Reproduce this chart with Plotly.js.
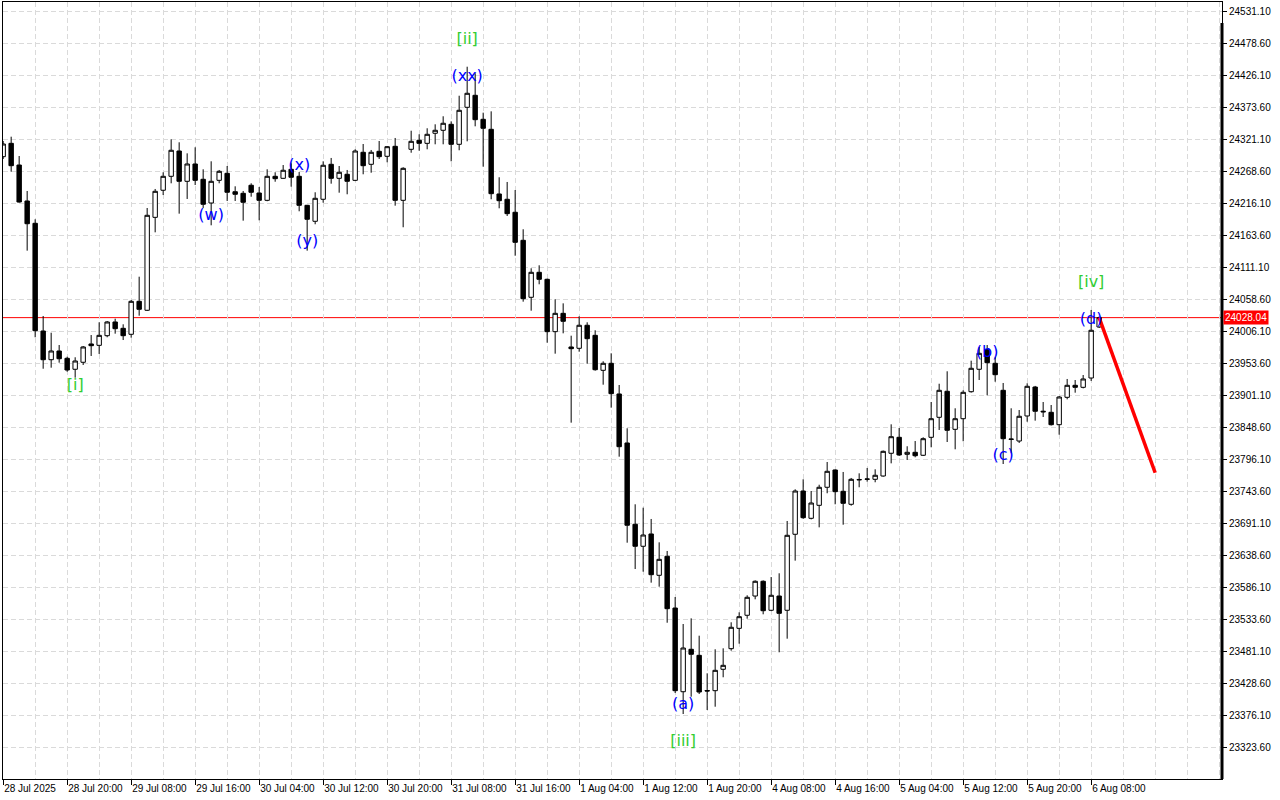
<!DOCTYPE html>
<html>
<head>
<meta charset="utf-8">
<script src="https://cdn.plot.ly/plotly-3.0.1.min.js"></script>
<style>
html,body{margin:0;padding:0;background:#ffffff;}
#chart{width:1280px;height:800px;}
</style>
</head>
<body>
<div id="chart"></div>
<script>
// ---- OHLC data (one bar per index) ----
const openP = [24292.1,24314.0,24278.4,24219.4,24182.8,24006.1,23959.0,23973.3,23961.3,23943.3,
23954.8,23984.8,23982.6,23998.4,24020.9,24010.5,24000.7,24054.8,24040.1,24192.6,
24237.0,24259.9,24301.4,24251.7,24280.1,24255.0,24216.1,24253.3,24264.8,24234.6,
24232.0,24245.2,24232.5,24220.5,24259.9,24256.6,24271.4,24259.9,24212.3,24186.1,
24222.2,24279.6,24256.6,24263.2,24253.3,24299.3,24279.6,24300.9,24292.7,24309.1,
24220.5,24304.2,24319.0,24314.0,24330.5,24335.4,24345.2,24312.4,24373.1,24392.8,
24353.4,24337.0,24230.9,24222.2,24200.9,24154.9,24061.4,24102.4,24090.9,24005.0,
24035.1,23979.9,23977.7,24015.5,23999.0,23941.6,23953.1,23902.8,23822.4,23689.0,
23652.9,23673.1,23605.3,23636.5,23551.6,23414.3,23483.9,23474.0,23416.3,23416.0,
23451.1,23484.9,23518.3,23539.7,23571.3,23595.5,23547.9,23571.3,23547.9,23672.6,
23743.6,23698.8,23720.1,23749.7,23778.1,23743.1,23721.8,23762.5,23763.3,23762.8,
23768.2,23805.5,23831.7,23803.8,23807.1,23802.2,23831.7,23864.5,23907.2,23844.8,
23862.2,23906.5,23943.3,23976.1,23953.1,23908.8,23828.9,23825.6,23866.7,23914.2,
23874.5,23872.7,23852.4,23897.3,23917.0,23913.7,23929.0,24012.7];

const highP = [24317.8,24324.9,24293.2,24235.8,24189.4,24030.7,24003.3,23983.1,23963.9,23963.0,
23981.5,23999.5,24020.4,24022.5,24026.3,24017.1,24057.0,24095.2,24207.9,24239.1,
24266.5,24320.6,24315.7,24297.6,24307.5,24271.4,24284.5,24270.3,24276.8,24243.5,
24235.8,24248.4,24242.4,24271.4,24266.5,24278.4,24281.2,24266.9,24213.0,24233.7,
24284.5,24290.0,24276.8,24270.3,24304.2,24312.9,24303.1,24317.8,24309.5,24322.8,
24274.7,24334.7,24328.8,24338.7,24345.2,24358.4,24350.1,24392.1,24439.7,24428.9,
24364.3,24366.5,24258.3,24250.6,24237.4,24173.0,24109.0,24113.9,24092.0,24058.1,
24051.5,23998.4,24030.2,24020.4,24007.3,23956.4,23969.5,23917.5,23846.5,23721.8,
23716.2,23697.7,23659.4,23645.2,23569.7,23525.4,23534.7,23506.2,23444.5,23483.9,
23485.5,23528.2,23544.6,23572.5,23597.0,23597.0,23602.5,23608.6,23694.4,23746.4,
23762.8,23743.6,23753.9,23791.2,23779.0,23774.8,23765.0,23772.6,23781.4,23779.2,
23810.0,23853.0,23847.0,23817.0,23825.6,23831.7,23889.6,23919.6,23940.0,23879.3,
23908.8,23957.4,23979.9,23983.1,23963.9,23920.8,23879.3,23876.5,23920.3,23916.0,
23889.6,23884.7,23899.5,23927.4,23925.7,23933.9,24040.6,24030.0];

const lowP = [24288.3,24267.5,24216.6,24137.9,23995.8,23944.2,23945.9,23954.1,23939.3,23929.5,
23950.3,23965.1,23968.4,23995.8,24001.7,23991.3,23995.1,24031.2,24038.9,24168.0,
24229.2,24248.4,24198.6,24222.7,24245.6,24208.0,24179.5,24248.4,24219.4,24219.4,
24187.1,24226.4,24187.7,24219.0,24251.0,24256.0,24242.9,24202.5,24137.9,24181.2,
24216.6,24247.8,24233.0,24230.4,24252.0,24263.2,24265.8,24288.3,24282.9,24211.7,
24176.3,24298.6,24301.9,24304.2,24312.4,24312.4,24284.5,24302.6,24317.3,24341.9,
24275.7,24222.2,24207.4,24194.8,24129.6,24054.2,24039.4,24082.7,23986.9,23968.9,
24002.3,23855.7,23972.1,23952.5,23941.0,23918.0,23880.3,23799.9,23658.8,23615.6,
23611.2,23593.2,23586.6,23527.5,23412.2,23377.7,23406.1,23410.5,23384.3,23389.7,
23438.0,23481.6,23493.1,23534.1,23565.9,23541.3,23546.5,23479.0,23501.3,23629.3,
23698.0,23697.0,23684.0,23739.9,23721.8,23688.3,23719.5,23749.7,23758.9,23757.9,
23767.1,23789.0,23801.0,23794.5,23798.9,23801.0,23815.3,23843.7,23824.0,23812.0,
23825.2,23905.0,23925.7,23900.6,23922.9,23787.9,23805.5,23822.4,23857.3,23859.0,
23865.0,23851.0,23836.0,23894.0,23904.9,23912.0,23924.1,24011.0];

const closeP = [24312.9,24277.3,24217.7,24182.1,24006.6,23959.0,23973.3,23960.6,23942.1,23956.9,
23979.9,23982.0,23999.0,24020.9,24009.9,23998.4,24054.8,24041.7,24195.9,24235.3,
24259.9,24302.6,24251.7,24280.1,24253.3,24214.0,24251.7,24268.1,24233.7,24230.4,
24217.3,24233.7,24220.5,24259.9,24256.0,24269.8,24258.3,24212.3,24189.4,24223.8,
24278.0,24256.6,24266.5,24251.7,24301.4,24277.3,24299.3,24292.1,24308.5,24220.5,
24273.0,24317.3,24314.0,24328.8,24335.4,24346.9,24312.4,24368.2,24396.1,24352.8,
24338.7,24231.4,24219.9,24198.6,24151.6,24059.1,24102.4,24090.9,24005.0,24035.1,
24022.0,23977.1,24015.5,23993.5,23942.6,23953.1,23903.3,23816.3,23687.4,23652.9,
23671.4,23606.3,23631.5,23550.5,23416.0,23486.0,23475.7,23413.8,23415.5,23449.4,
23457.6,23520.0,23537.4,23569.2,23595.5,23547.2,23572.5,23542.9,23670.9,23743.6,
23699.8,23723.9,23749.7,23775.9,23742.5,23723.4,23762.8,23762.0,23763.0,23769.4,
23808.7,23832.7,23802.7,23807.1,23801.5,23829.4,23862.2,23908.8,23843.2,23862.2,
23905.5,23944.9,23969.5,23954.1,23934.4,23829.4,23828.4,23866.2,23915.4,23874.4,
23873.5,23852.4,23897.8,23917.0,23913.7,23927.4,24007.3,24028.04];

// ---- axis labels ----
const timeTickIdx = [0,8,16,24,32,40,48,56,64,72,80,88,96,104,112,120,128,136];
const timeTickText = ['28 Jul 2025','28 Jul 20:00','29 Jul 08:00','29 Jul 16:00','30 Jul 04:00',
  '30 Jul 12:00','30 Jul 20:00','31 Jul 08:00','31 Jul 16:00','1 Aug 04:00','1 Aug 12:00',
  '1 Aug 20:00','4 Aug 08:00','4 Aug 16:00','5 Aug 04:00','5 Aug 12:00','5 Aug 20:00','6 Aug 08:00'];
const priceTicks = [23323.60,23376.10,23428.60,23481.10,23533.60,23586.10,23638.60,23691.10,
  23743.60,23796.10,23848.60,23901.10,23953.60,24006.10,24058.60,24111.10,24163.60,24216.10,
  24268.60,24321.10,24373.60,24426.10,24478.60,24531.10];

// ---- wave labels ----
const waveText = ['[i]','(w)','(x)','(y)','[ii]','(xx)','(a)','[iii]','(b)','(c)','[iv]','(d)'];
const waveX    = [9, 26, 37, 38, 58, 58, 85, 85, 123, 125, 136, 136];
const waveY    = [23915.9,24194.8,24276.8,24152.1,24483.5,24422.3,23392.5,23331.8,23970.5,23801.0,24084.4,24024.2];
const waveColor= ['#32cd32','#0000ff','#0000ff','#0000ff','#32cd32','#0000ff','#0000ff','#32cd32','#0000ff','#0000ff','#32cd32','#0000ff'];

// ---- forecast line ----
const forecastX = [137, 144];
const forecastY = [24028.04, 23773.6];

const idx = openP.map((_, i) => i);
const lastClose = closeP[closeP.length - 1];

const axisFont = {family: "'Liberation Sans Narrow','Liberation Sans',Arial,sans-serif", size: 10, color: '#000000'};
const gridCol = '#dadada';

const traces = [
  {
    type: 'candlestick',
    x: idx, open: openP, high: highP, low: lowP, close: closeP,
    increasing: {line: {color: '#000000', width: 1}, fillcolor: '#ffffff'},
    decreasing: {line: {color: '#000000', width: 1}, fillcolor: '#000000'},
    whiskerwidth: 0,
    hoverinfo: 'skip',
    showlegend: false
  },
  {
    type: 'scatter', mode: 'lines',
    x: forecastX, y: forecastY,
    line: {color: '#ff0000', width: 3.5},
    hoverinfo: 'skip', showlegend: false
  },
  {
    type: 'scatter', mode: 'text',
    x: waveX, y: waveY, text: waveText,
    textposition: 'middle center',
    textfont: {family: "'DejaVu Sans',sans-serif", size: 16, color: waveColor},
    cliponaxis: false,
    hoverinfo: 'skip', showlegend: false
  }
];

const layout = {
  width: 1280, height: 800,
  margin: {l: 3, r: 58, t: 2, b: 21, pad: 0},
  paper_bgcolor: '#ffffff', plot_bgcolor: '#ffffff',
  showlegend: false,
  boxgap: 0.45, boxgroupgap: 0,
  xaxis: {
    type: 'linear',
    range: [-0.02, 152.355],
    rangeslider: {visible: false},
    tickmode: 'array', tickvals: timeTickIdx, ticktext: timeTickText,
    tickangle: 0,
    ticks: 'outside', ticklen: 5, tickcolor: '#000000', tickwidth: 1,
    ticklabelposition: 'outside right',
    tickfont: axisFont,
    showgrid: true, gridcolor: gridCol, griddash: '5px,3px', gridwidth: 1,
    minor: {tickmode: 'linear', tick0: 0, dtick: 4, showgrid: true, gridcolor: gridCol, griddash: '5px,3px', gridwidth: 1, ticks: ''},
    showline: true, linecolor: '#000000', linewidth: 1, mirror: true,
    zeroline: false, fixedrange: true
  },
  yaxis: {
    side: 'right',
    range: [23271.1, 24545.87],
    tickmode: 'array', tickvals: priceTicks,
    tickformat: '.2f',
    ticks: 'outside', ticklen: 4, tickcolor: '#000000', tickwidth: 1,
    tickfont: axisFont,
    showgrid: true, gridcolor: gridCol, griddash: '5px,3px', gridwidth: 1,
    showline: true, linecolor: '#000000', linewidth: 1, mirror: true,
    zeroline: false, fixedrange: true
  },
  shapes: [
    {type: 'line', xref: 'paper', yref: 'y', x0: 0, x1: 1, y0: lastClose, y1: lastClose,
     line: {color: '#ff0000', width: 1}, layer: 'below'},
    {type: 'line', xref: 'paper', yref: 'paper', x0: 1, x1: 1, y0: 0, y1: 0.973,
     line: {color: '#000000', width: 3}}
  ],
  annotations: [
    {xref: 'paper', yref: 'y', x: 1, y: lastClose, xanchor: 'left', yanchor: 'middle',
     xshift: 1, text: lastClose.toFixed(2), showarrow: false,
     bgcolor: '#ff0000', borderpad: 1,
     font: {family: "'Liberation Sans Narrow','Liberation Sans',Arial,sans-serif", size: 10, color: '#ffffff'}}
  ]
};

Plotly.newPlot('chart', traces, layout, {displayModeBar: false, staticPlot: true});
</script>
</body>
</html>
